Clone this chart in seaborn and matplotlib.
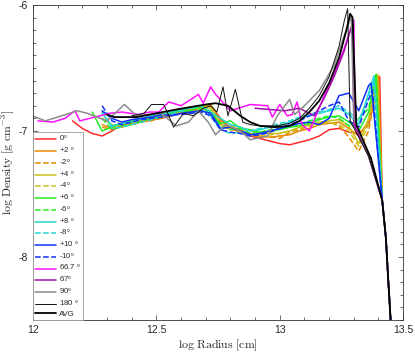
import numpy as np
import pandas as pd
import matplotlib
matplotlib.use("Agg")
import matplotlib.pyplot as plt
import seaborn as sns
from matplotlib.ticker import MultipleLocator

nan = np.nan

# common radius grid for the angle profiles (log cm)
x_grid = [12.16, 12.20, 12.24, 12.28, 12.32, 12.36, 12.40, 12.44, 12.48, 12.52,
          12.56, 12.60, 12.64, 12.68, 12.72, 12.76, 12.80, 12.84, 12.88, 12.92,
          12.96, 13.00, 13.04, 13.08, 13.12, 13.16, 13.20, 13.24, 13.28, 13.32, 13.36]

# shared steep drop at the outer edge
tail_x = [13.415, 13.43, 13.44, 13.445, 13.452]
tail_y = [-7.55, -7.85, -8.20, -8.36, -8.60]

# angle profiles (log density)
d_0 = [-6.92, -6.98, -7.02, -7.04, -7.00, -6.95, -6.93, -6.93, -6.91, -6.90,
       -6.88, -6.86, -6.86, -6.83, -6.80, -6.90, -6.98, -7.01, -7.04, -7.06,
       -7.08, -7.10, -7.11, -7.09, -7.07, -7.04, -6.99, -6.98, -7.01, -7.02, -6.95]
d_p2 = [nan, nan, nan, -6.95, -6.98, -6.97, -6.94, -6.92, -6.92, -6.89,
        -6.88, -6.84, -6.85, -6.81, -6.79, -6.92, -6.97, -6.99, -7.02, -7.04,
        -7.05, -7.04, -7.03, -7.00, -6.98, -6.95, -6.94, -6.93, -6.98, -7.04, -6.92]
d_m2 = [nan, nan, nan, -6.97, -6.99, -6.96, -6.95, -6.93, -6.91, -6.90,
        -6.87, -6.86, -6.83, -6.84, -6.80, -6.94, -6.99, -7.00, -7.03, -7.05,
        -7.04, -7.06, -7.01, -6.99, -6.96, -6.94, -6.93, -6.96, -7.05, -7.16, -7.00]
d_p4 = [nan, nan, nan, -6.90, -6.95, -6.96, -6.93, -6.91, -6.90, -6.88,
        -6.86, -6.85, -6.82, -6.80, -6.82, -6.95, -6.96, -6.97, -7.00, -7.01,
        -7.02, -7.02, -7.00, -6.97, -6.95, -6.93, -6.92, -6.91, -6.96, -7.10, -6.90]
d_m4 = [nan, nan, nan, -6.85, -6.97, -6.95, -6.94, -6.92, -6.89, -6.87,
        -6.86, -6.84, -6.81, -6.83, -6.79, -6.96, -6.98, -7.01, -7.04, -7.03,
        -7.03, -7.02, -7.00, -6.98, -6.96, -6.94, -6.93, -6.95, -7.00, -7.12, -6.95]
d_p6 = [nan, nan, -6.85, -7.00, -6.97, -6.94, -6.92, -6.90, -6.89, -6.87,
        -6.85, -6.83, -6.84, -6.80, -6.87, -6.94, -6.92, -6.98, -6.99, -7.01,
        -7.00, -6.99, -6.97, -6.96, -6.94, -6.91, -6.89, -6.88, -6.93, -7.00, -6.85]
d_m6 = [nan, nan, nan, -6.90, -6.99, -6.96, -6.95, -6.92, -6.90, -6.88,
        -6.86, -6.84, -6.86, -6.82, -6.84, -6.96, -6.99, -6.98, -7.02, -7.01,
        -6.99, -6.98, -6.97, -6.95, -6.92, -6.90, -6.88, -6.90, -6.96, -6.90, -6.82]
d_p8 = [nan, nan, nan, -6.86, -6.96, -6.94, -6.93, -6.90, -6.88, -6.87,
        -6.85, -6.83, -6.82, -6.80, -6.85, -6.90, -6.95, -6.97, -7.00, -6.99,
        -6.97, -6.96, -6.93, -6.90, -6.88, -6.86, -6.84, -6.82, -6.87, -6.95, -6.70]
d_m8 = [nan, nan, nan, -6.84, -6.98, -6.97, -6.95, -6.93, -6.91, -6.89,
        -6.87, -6.84, -6.86, -6.83, -6.88, -6.99, -7.02, -7.01, -7.00, -6.98,
        -6.96, -6.94, -6.92, -6.89, -6.87, -6.85, -6.83, -6.80, -6.85, -6.92, -6.72]
d_p10 = [nan, nan, nan, -6.84, -6.90, -6.93, -6.91, -6.90, -6.89, -6.87,
         -6.88, -6.86, -6.85, -6.84, -6.86, -6.98, -6.97, -7.00, -7.03, -7.02,
         -7.00, -6.98, -6.96, -6.94, -6.93, -6.95, -6.90, -6.72, -6.70, -6.84, -6.64]
d_m10 = [nan, nan, nan, -6.80, -6.92, -6.95, -6.93, -6.91, -6.90, -6.89,
         -6.87, -6.87, -6.86, -6.85, -6.88, -6.99, -7.01, -7.02, -7.04, -7.03,
         -7.01, -6.98, -6.95, -6.92, -6.88, -6.84, -6.80, -6.77, -6.92, -6.97, -6.75]

# outer spike of each angle profile: (radius, density)
peak_x = [13.405, 13.400, 13.398, 13.395, 13.395, 13.390, 13.388, 13.382, 13.380, 13.370, 13.375]
peak_y = [-6.57, -6.56, -6.60, -6.55, -6.58, -6.55, -6.58, -6.56, -6.60, -6.62, -6.68]

# polar profiles
r_667 = [12.02, 12.08, 12.13, 12.17, 12.19, 12.23, 12.27, 12.31, 12.36, 12.43, 12.47,
         12.51, 12.55, 12.60, 12.64, 12.67, 12.69, 12.72, 12.74, 12.80, 12.88, 12.95,
         12.97, 13.00, 13.03, 13.05, 13.07, 13.09, 13.12, 13.14, 13.18, 13.22, 13.26,
         13.30, 13.305, 13.36]
d_667 = [-6.92, -6.93, -6.90, -6.84, -6.92, -6.90, -6.88, -6.86, -6.85, -6.87, -6.85,
         -6.85, -6.77, -6.80, -6.75, -6.71, -6.78, -6.65, -6.71, -6.84, -6.79, -6.80,
         -6.89, -6.79, -6.88, -6.87, -6.77, -6.95, -7.00, -6.91, -6.72, -6.55, -6.35,
         -6.12, -6.95, -7.20]
r_67 = [12.90, 12.96, 13.02, 13.08, 13.14, 13.18, 13.22, 13.26, 13.296, 13.30, 13.36]
d_67 = [-6.82, -6.83, -6.84, -6.82, -6.88, -6.74, -6.57, -6.37, -6.14, -6.95, -7.20]
r_90 = [11.97, 12.05, 12.10, 12.18, 12.22, 12.30, 12.37, 12.42, 12.47, 12.52, 12.58,
        12.63, 12.67, 12.71, 12.74, 12.78, 12.84, 12.88, 12.95, 12.99, 13.04, 13.06,
        13.10, 13.16, 13.22, 13.26, 13.29, 13.30, 13.36]
d_90 = [-6.86, -6.92, -6.89, -6.84, -6.86, -6.92, -6.79, -6.88, -6.87, -6.86, -6.96,
        -6.93, -6.84, -6.93, -7.03, -6.95, -7.00, -7.07, -7.04, -6.88, -6.75, -6.87,
        -6.80, -6.68, -6.48, -6.25, -6.09, -6.90, -7.20]
r_180 = [12.40, 12.45, 12.48, 12.53, 12.57, 12.61, 12.65, 12.69, 12.72, 12.745, 12.77,
         12.79, 12.82, 12.85, 12.88, 12.92, 12.98, 13.04, 13.08, 13.12, 13.16, 13.20,
         13.24, 13.262, 13.275, 13.285, 13.36]
d_180 = [-6.88, -6.86, -6.79, -6.79, -6.97, -6.86, -6.88, -6.82, -6.80, -6.85, -6.65,
         -6.88, -6.67, -6.93, -6.95, -6.96, -6.96, -6.94, -6.90, -6.82, -6.72, -6.57,
         -6.33, -6.12, -6.03, -6.92, -7.20]
r_avg = [12.30, 12.33, 12.42, 12.50, 12.58, 12.64, 12.70, 12.74, 12.79, 12.84, 12.88,
         12.92, 12.98, 13.04, 13.08, 13.12, 13.16, 13.20, 13.24, 13.27, 13.285, 13.295,
         13.31, 13.37]
d_avg = [-6.87, -6.89, -6.89, -6.86, -6.83, -6.81, -6.79, -6.78, -6.80, -6.88, -6.93,
         -6.96, -6.97, -6.96, -6.92, -6.85, -6.76, -6.62, -6.42, -6.20, -6.07, -6.10,
         -6.95, -7.22]

angle_labels = ['0$^{\\mathsf{o}}$', '+2 $^{\\mathsf{o}}$', '-2$^{\\mathsf{o}}$',
                '+4 $^{\\mathsf{o}}$', '-4$^{\\mathsf{o}}$', '+6 $^{\\mathsf{o}}$',
                '-6$^{\\mathsf{o}}$', '+8 $^{\\mathsf{o}}$', '-8$^{\\mathsf{o}}$',
                '+10 $^{\\mathsf{o}}$', '-10$^{\\mathsf{o}}$']
angle_data = [d_0, d_p2, d_m2, d_p4, d_m4, d_p6, d_m6, d_p8, d_m8, d_p10, d_m10]
angle_colors = ['#ff2a2a', '#e88a00', '#e88a00', '#c9c21a', '#c9c21a', '#22ee22',
                '#22ee22', '#22d8d0', '#22d8d0', '#1030ff', '#1030ff']
angle_styles = ['-', '-', '--', '-', '--', '-', '--', '-', '--', '-', '--']

sns.set_style('ticks')
plt.rcParams['font.family'] = ['Liberation Sans', 'DejaVu Sans']
plt.rcParams['mathtext.fontset'] = 'cm'

fig = plt.figure(figsize=(4.15, 3.52), dpi=100)
ax = fig.add_axes([0.0795, 0.091, 0.892, 0.895])

for lab, ys, col, ls, px, py in zip(angle_labels, angle_data, angle_colors,
                                    angle_styles, peak_x, peak_y):
    xs = x_grid + [px] + tail_x
    yv = ys + [py] + tail_y
    df = pd.DataFrame({'r': xs, 'rho': yv}).dropna()
    sns.lineplot(data=df, x='r', y='rho', sort=False, estimator=None, ax=ax,
                 color=col, lw=1.1, ls=ls, label=lab)

polar = [
    ('66.7 $^{\\mathsf{o}}$', r_667, d_667, '#ff10ff', 1.1),
    ('67$^{\\mathsf{o}}$', r_67, d_67, '#a010a8', 1.1),
    ('90$^{\\mathsf{o}}$', r_90, d_90, '#8c8c8c', 1.1),
    ('180 $^{\\mathsf{o}}$', r_180, d_180, '#111111', 0.7),
    ('AVG', r_avg, d_avg, '#000000', 1.3),
]
for lab, xs, ys, col, lw in polar:
    df = pd.DataFrame({'r': xs + tail_x, 'rho': ys + tail_y})
    sns.lineplot(data=df, x='r', y='rho', sort=False, estimator=None, ax=ax,
                 color=col, lw=lw, label=lab)

ax.set_xlim(12, 13.5)
ax.set_ylim(-8.5, -6)
ax.set_xticks([12, 12.5, 13, 13.5])
ax.set_xticklabels(['12', '12.5', '13', '13.5'])
ax.set_yticks([-8, -7, -6])
ax.set_yticklabels(['-8', '-7', '-6'])
ax.xaxis.set_minor_locator(MultipleLocator(0.1))
ax.yaxis.set_minor_locator(MultipleLocator(0.1))
ax.tick_params(which='both', direction='in', top=True, right=True,
               color='#333333', labelsize=7.5, width=0.5)
ax.tick_params(which='major', length=3.5)
ax.tick_params(which='minor', length=2)
for s in ax.spines.values():
    s.set_color('#333333')
    s.set_linewidth(0.6)

ax.set_xlabel(r'$\mathrm{log\ Radius\ [cm]}$', fontsize=8.5, labelpad=2)
ax.set_ylabel(r'$\mathrm{log\ Density\ [g\ cm^{-3}]}$', fontsize=8.5, labelpad=1)

leg = ax.legend(loc='lower left', fontsize=5.6, frameon=True, fancybox=False,
                framealpha=1, edgecolor='#999999', borderaxespad=0,
                handlelength=2.7, handletextpad=0.3, labelspacing=0.2,
                borderpad=0.3)
leg.get_frame().set_linewidth(0.6)

fig.savefig('out.png', dpi=100)
